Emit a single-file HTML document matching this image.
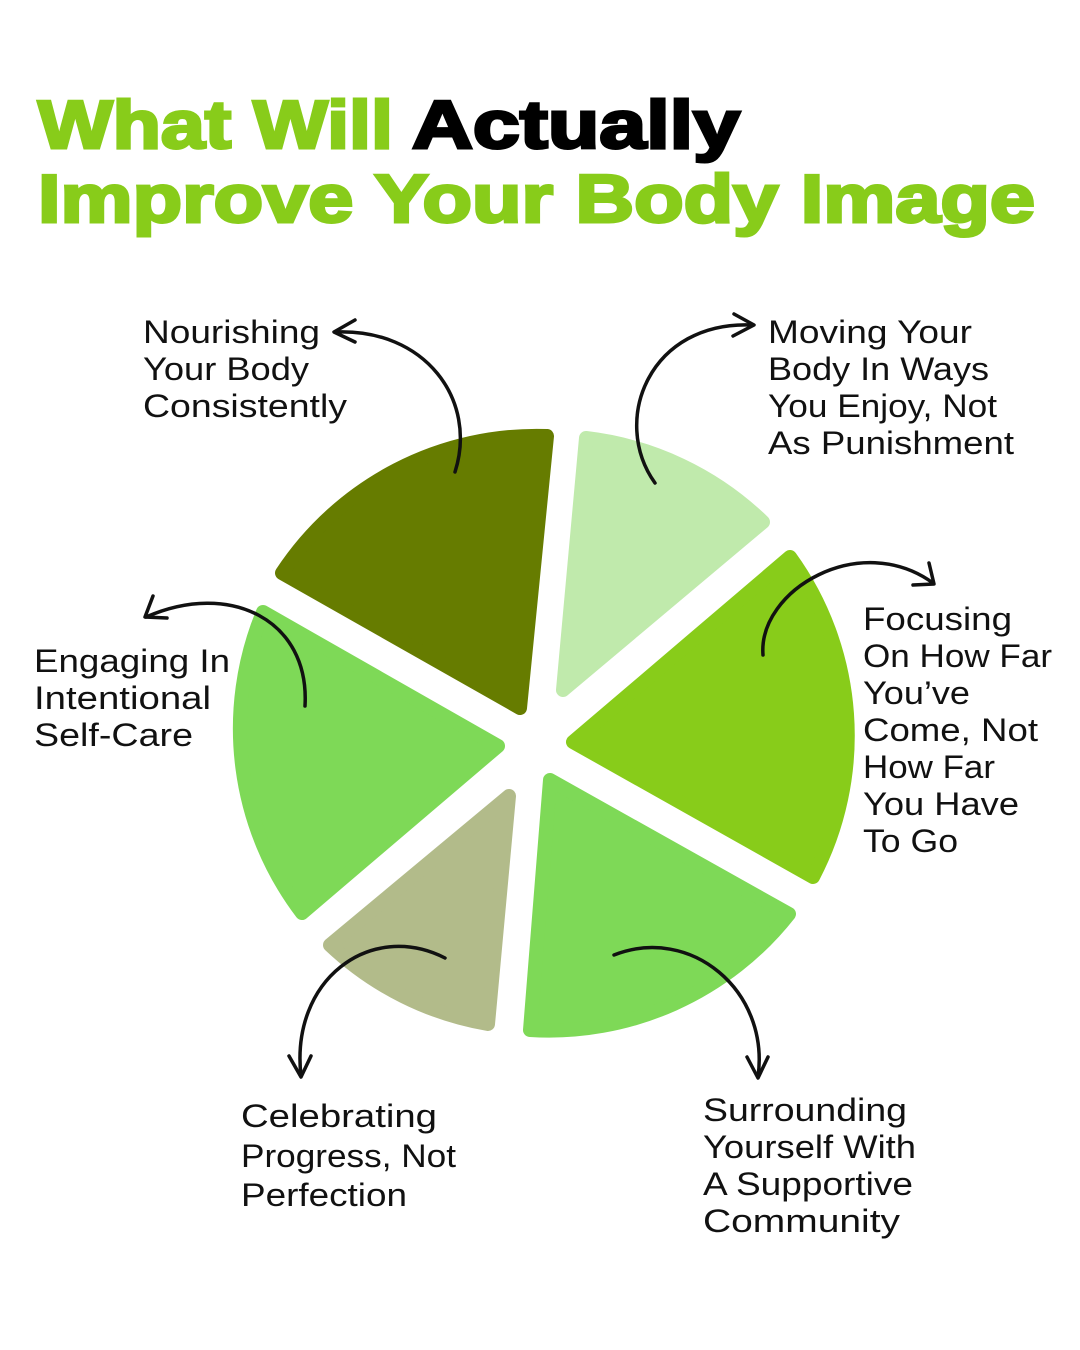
<!DOCTYPE html>
<html><head><meta charset="utf-8"><style>
html,body{margin:0;padding:0;background:#fff;}
svg{display:block;}
</style></head><body>
<svg width="1080" height="1350" viewBox="0 0 1080 1350" xmlns="http://www.w3.org/2000/svg">
<rect width="1080" height="1350" fill="#fff"/>
<g font-family="Liberation Sans, sans-serif" font-weight="900" font-size="68">
<text x="38" y="148" textLength="355" lengthAdjust="spacingAndGlyphs" fill="#88cc1a" stroke="#88cc1a" stroke-width="3">What Will</text>
<text x="412" y="148" textLength="328" lengthAdjust="spacingAndGlyphs" fill="#000" stroke="#000" stroke-width="3">Actually</text>
<text x="38" y="222" textLength="997" lengthAdjust="spacingAndGlyphs" fill="#88cc1a" stroke="#88cc1a" stroke-width="3">Improve Your Body Image</text>
</g>
<g stroke-linejoin="round" stroke-width="14">
<path d="M520,708 L547,436 A305,305 0 0 0 282,573 Z" fill="#667c00" stroke="#667c00"/>
<path d="M563,690 L586,438 A305,305 0 0 1 763,522 Z" fill="#c0eaac" stroke="#c0eaac"/>
<path d="M573,742 L790,557 A305,305 0 0 1 813,877 Z" fill="#88cc1a" stroke="#88cc1a"/>
<path d="M550,780 L789,914 A305,305 0 0 1 530,1030 Z" fill="#7ed957" stroke="#7ed957"/>
<path d="M509,796 L488,1024 A305,305 0 0 1 330,945 Z" fill="#b2bb8a" stroke="#b2bb8a"/>
<path d="M498,746 L302,913 A305,305 0 0 1 263,612 Z" fill="#7ed957" stroke="#7ed957"/>
</g>
<g fill="none" stroke="#111" stroke-width="3.5" stroke-linecap="round" stroke-linejoin="round">
<path d="M455,472 C478,400 425,328 335,332"/><path d="M355,320 L334,332 L355,342"/>
<path d="M655,483 C610,420 650,320 753,325"/><path d="M734,314 L754,325 L733,336"/>
<path d="M763,655 C758,590 860,530 933,583"/><path d="M913,585 L934,584 L929,563"/>
<path d="M305,706 C310,620 230,580 146,617"/><path d="M153,596 L145,617 L167,618"/>
<path d="M445,958 C370,920 290,980 301,1076"/><path d="M289,1056 L301,1077 L311,1056"/>
<path d="M614,955 C690,925 770,990 758,1077"/><path d="M747,1057 L758,1078 L768,1057"/>
</g>
<g font-family="Liberation Sans, sans-serif" font-size="32" fill="#111">
<text x="143" y="343" textLength="177" lengthAdjust="spacingAndGlyphs">Nourishing</text><text x="143" y="380" textLength="166" lengthAdjust="spacingAndGlyphs">Your Body</text><text x="143" y="417" textLength="204" lengthAdjust="spacingAndGlyphs">Consistently</text>
<text x="768" y="343" textLength="204" lengthAdjust="spacingAndGlyphs">Moving Your</text><text x="768" y="380" textLength="221" lengthAdjust="spacingAndGlyphs">Body In Ways</text><text x="768" y="417" textLength="229" lengthAdjust="spacingAndGlyphs">You Enjoy, Not</text><text x="768" y="454" textLength="246" lengthAdjust="spacingAndGlyphs">As Punishment</text>
<text x="863" y="630" textLength="149" lengthAdjust="spacingAndGlyphs">Focusing</text><text x="863" y="667" textLength="189" lengthAdjust="spacingAndGlyphs">On How Far</text><text x="863" y="704" textLength="107" lengthAdjust="spacingAndGlyphs">You’ve</text><text x="863" y="741" textLength="175" lengthAdjust="spacingAndGlyphs">Come, Not</text><text x="863" y="778" textLength="132" lengthAdjust="spacingAndGlyphs">How Far</text><text x="863" y="815" textLength="156" lengthAdjust="spacingAndGlyphs">You Have</text><text x="863" y="852" textLength="95" lengthAdjust="spacingAndGlyphs">To Go</text>
<text x="34" y="672" textLength="196" lengthAdjust="spacingAndGlyphs">Engaging In</text><text x="34" y="709" textLength="177" lengthAdjust="spacingAndGlyphs">Intentional</text><text x="34" y="746" textLength="159" lengthAdjust="spacingAndGlyphs">Self-Care</text>
<text x="241" y="1127" textLength="196" lengthAdjust="spacingAndGlyphs">Celebrating</text><text x="241" y="1167" textLength="215" lengthAdjust="spacingAndGlyphs">Progress, Not</text><text x="241" y="1206" textLength="166" lengthAdjust="spacingAndGlyphs">Perfection</text>
<text x="703" y="1121" textLength="204" lengthAdjust="spacingAndGlyphs">Surrounding</text><text x="703" y="1158" textLength="213" lengthAdjust="spacingAndGlyphs">Yourself With</text><text x="703" y="1195" textLength="210" lengthAdjust="spacingAndGlyphs">A Supportive</text><text x="703" y="1232" textLength="197" lengthAdjust="spacingAndGlyphs">Community</text>
</g>
</svg>
</body></html>
